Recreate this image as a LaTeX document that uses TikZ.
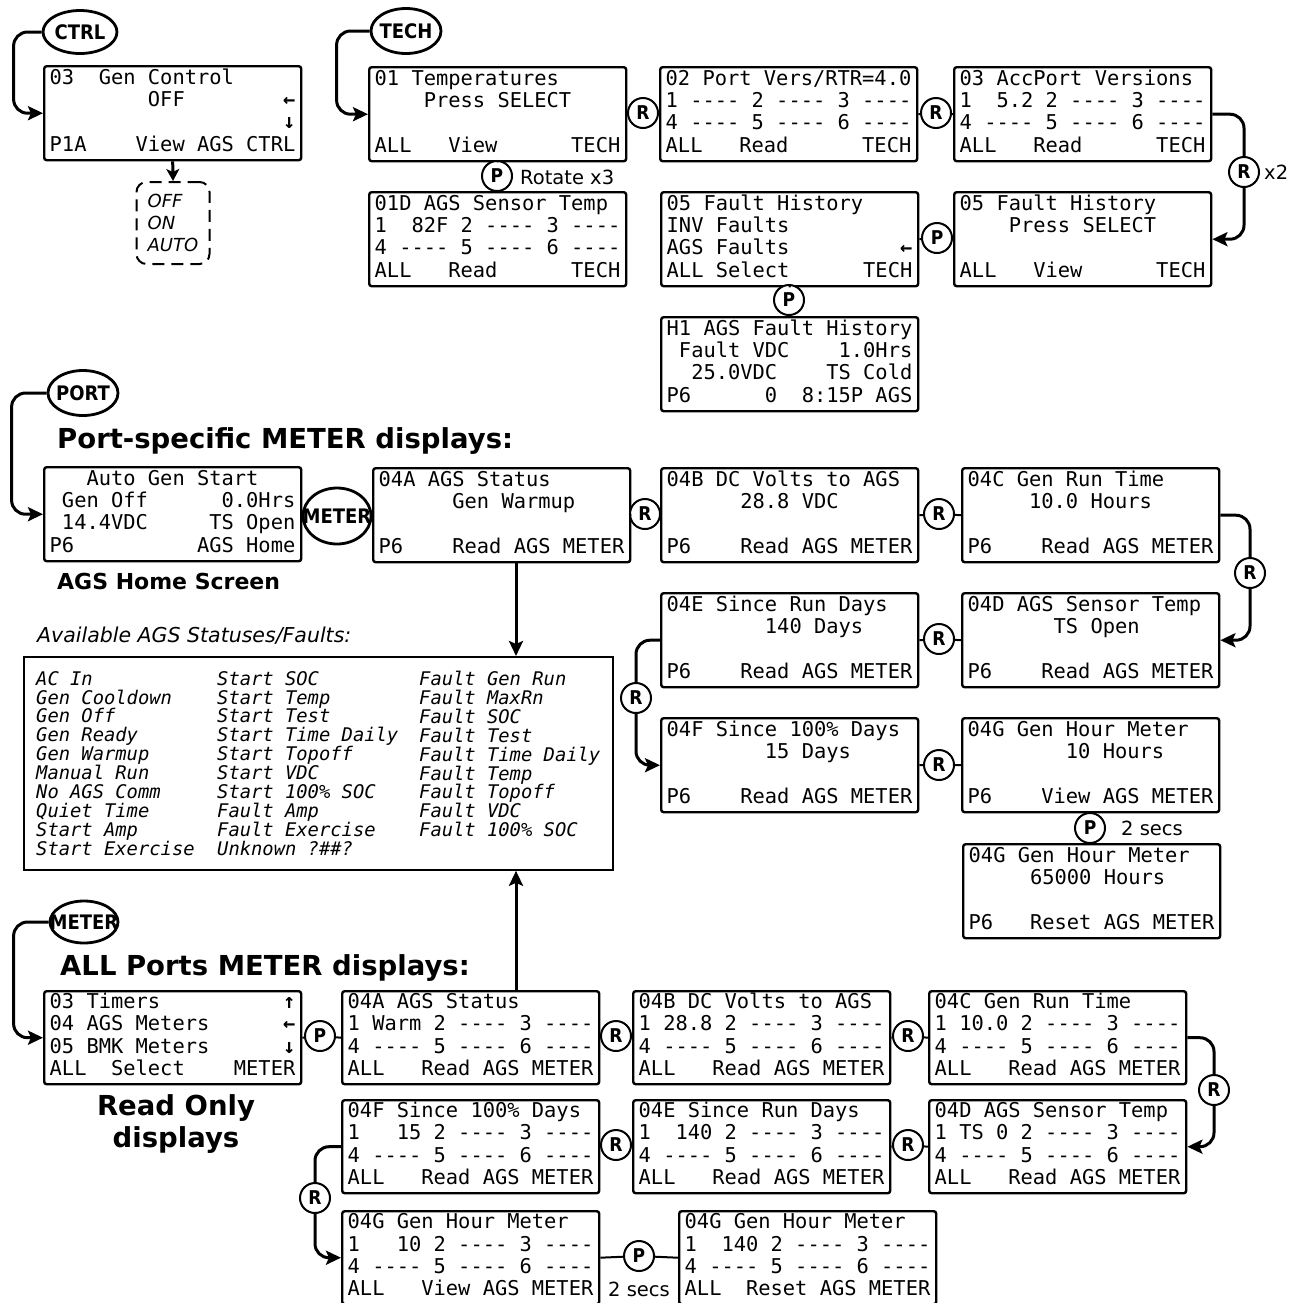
\documentclass[tikz,border=0pt]{standalone}
\usepackage{fontspec}
\setsansfont{DejaVu Sans Condensed}
\setmonofont{DejaVu Sans Mono}
\newfontfamily\widesans{DejaVu Sans}
\usetikzlibrary{shapes.geometric,arrows.meta}
\newcommand\lcdfont{\ttfamily\fontsize{20.4}{22.4}\selectfont}
\newcommand\keyfont{\sffamily\bfseries\fontsize{19}{19}\selectfont}
\newcommand\menufont{\sffamily\bfseries\fontsize{20}{20}\selectfont}
\newcommand\headfont{\widesans\bfseries\fontsize{27.5}{32}\selectfont}
\newcommand\capfont{\widesans\bfseries\fontsize{22}{26}\selectfont}
\newcommand\notefont{\widesans\fontsize{19.5}{22}\selectfont}
\newcommand\listfont{\ttfamily\itshape\fontsize{18.8}{18.9}\selectfont}
\newcommand\monosp{\spaceskip=0.60205em\relax\xspaceskip=0.60205em\relax}
\newcommand\ar[1]{\textbf{#1}}
\begin{document}
\begin{tikzpicture}[x=1pt, y=-1pt,
  screen/.style={draw, line width=2.4pt, rounded corners=2.5pt, anchor=north west,
    minimum width=257pt, minimum height=94pt, text width=246pt, inner xsep=5.5pt,
    inner ysep=1pt, align=left, font=\lcdfont,
    execute at begin node=\monosp\strut, execute at end node=\strut},
  listcol/.style={font=\listfont, align=left, anchor=north west, inner sep=0pt,
    execute at begin node=\monosp\strut},
  key/.style={draw, circle, fill=white, line width=2pt, minimum size=30pt,
    inner sep=0pt, font=\keyfont},
  menu/.style={draw, ellipse, fill=white, line width=2.8pt, inner xsep=-16pt,
    inner ysep=0pt, font=\menufont},
  loop/.style={line width=3pt, rounded corners=14pt},
  flow/.style={loop, -{Stealth[length=15pt, width=14pt, inset=3pt]}},
  link/.style={line width=2pt},
  head/.style={font=\headfont, inner sep=0pt},
  note/.style={font=\notefont, inner sep=0pt}]
\useasboundingbox (0,0) rectangle (1306,1302);

\node[menu, minimum width=74pt, minimum height=43pt] (ctrl) at (80,32) {CTRL};
\node[screen] (genctrl) at (43,65) {03~~Gen Control\\~~~~~~~~OFF~~~~~~~~\ar{←}\\~~~~~~~~~~~~~~~~~~~\ar{↓}\\P1A~~~~View AGS CTRL};
\node[draw, line width=2pt, dash pattern=on 12pt off 7pt, rounded corners=10pt, anchor=north,
  minimum width=73pt, minimum height=82pt, align=left, font=\widesans\itshape\fontsize{18}{22}\selectfont]
  (opts) at (173,181) {OFF\\ON\\AUTO};
\draw[flow] (ctrl.west) -- ++(-28,0) |- (genctrl.west);
\draw[flow, -{Stealth[length=12pt, width=13pt, inset=3pt]}] (genctrl.south) -- (opts.north);

\node[menu, minimum width=70pt, minimum height=45pt] (tech) at (406,31) {TECH};
\node[screen] (temps) at (368,66) {01 Temperatures\\~~~~Press SELECT\\~\\ALL~~~View~~~~~~TECH};
\node[screen] (portv) at (659,66) {02 Port Vers/RTR=4.0\\1 ---- 2 ---- 3 ----\\4 ---- 5 ---- 6 ----\\ALL~~~Read~~~~~~TECH};
\node[screen] (accp) at (953,66) {03 AccPort Versions\\1~~5.2 2 ---- 3 ----\\4 ---- 5 ---- 6 ----\\ALL~~~Read~~~~~~TECH};
\node[screen] (faultv) at (953,191) {05 Fault History\\~~~~Press SELECT\\~\\ALL~~~View~~~~~~TECH};
\node[screen] (faultsel) at (660,191) {05 Fault History\\INV Faults\\AGS Faults~~~~~~~~~\ar{←}\\ALL Select~~~~~~TECH};
\node[screen] (hist) at (660,316) {H1 AGS Fault History\\~Fault VDC~~~~1.0Hrs\\~~25.0VDC~~~~TS Cold\\P6~~~~~~0~~8:15P AGS};
\node[screen] (sensor) at (368,191) {01D AGS Sensor Temp\\1~~82F 2 ---- 3 ----\\4 ---- 5 ---- 6 ----\\ALL~~~Read~~~~~~TECH};
\draw[flow] (tech.west) -- ++(-33,0) |- (temps.west);
\node[key] (rt1) at (643,113) {R};
\node[key] (rt2) at (936,113) {R};
\node[key] (rx2) at (1244,172) {R};
\node[key] (pf1) at (937,238) {P};
\node[key] (pf2) at (789,300) {P};
\node[key] (pt1) at (497,176) {P};
\node[note, anchor=west] (x2) at (1264,172) {x2};
\node[note, anchor=west] (rot) at (520,177) {Rotate x3};
\draw[link] (temps.east) -- (rt1) -- (portv.west);
\draw[link] (portv.east) -- (rt2) -- (accp.west);
\draw[loop] (accp.east) -| (rx2);
\draw[flow] (rx2) |- (faultv.east);
\draw[link] (faultv.west) -- (pf1) -- (faultsel.east);
\draw[link] (faultsel.south) -- (pf2) -- (hist.north);
\draw[link] (temps.south) -- (pt1) -- (sensor.north);

\node[menu, minimum width=70pt, minimum height=45pt] (port) at (83,393) {PORT};
\node[head, anchor=west] (porthead) at (57,441) {Port-specific METER displays:};
\node[screen] (home) at (43,466) {~~~Auto Gen Start\\~Gen Off~~~~~~0.0Hrs\\~14.4VDC~~~~~TS Open\\P6~~~~~~~~~~AGS Home};
\node[font=\capfont, inner sep=0pt, anchor=west] (homecap) at (57,581) {AGS Home Screen};
\node[screen] (status) at (372,467) {04A AGS Status\\~~~~~~Gen Warmup\\~\\P6~~~~Read AGS METER};
\node[screen] (bvolts) at (660,467) {04B DC Volts to AGS\\~~~~~~28.8 VDC\\~\\P6~~~~Read AGS METER};
\node[screen] (runtime) at (961,467) {04C Gen Run Time\\~~~~~10.0 Hours\\~\\P6~~~~Read AGS METER};
\node[screen] (stemp) at (961,592) {04D AGS Sensor Temp\\~~~~~~~TS Open\\~\\P6~~~~Read AGS METER};
\node[screen] (sincerun) at (660,592) {04E Since Run Days\\~~~~~~~~140 Days\\~\\P6~~~~Read AGS METER};
\node[screen] (since100) at (660,717) {04F Since 100\% Days\\~~~~~~~~15 Days\\~\\P6~~~~Read AGS METER};
\node[screen] (hourm) at (961,717) {04G Gen Hour Meter\\~~~~~~~~10 Hours\\~\\P6~~~~View AGS METER};
\node[screen] (hourr) at (962,843) {04G Gen Hour Meter\\~~~~~65000 Hours\\~\\P6~~~Reset AGS METER};
\node[menu, minimum width=68pt, minimum height=56pt] (meterp) at (337,516) {METER};
\draw[flow] (port.west) -- ++(-35,0) |- (home.west);
\node[key] (rm1) at (645,514) {R};
\node[key] (rm2) at (939,514) {R};
\node[key] (rm3) at (1250,573) {R};
\node[key] (rm4) at (939,639) {R};
\node[key] (rm5) at (636,698) {R};
\node[key] (rm6) at (939,765) {R};
\node[key] (pm1) at (1090,828) {P};
\node[note, anchor=west] (secs1) at (1121,828) {2 secs};
\draw[link] (status.east) -- (rm1) -- (bvolts.west);
\draw[link] (bvolts.east) -- (rm2) -- (runtime.west);
\draw[loop] (runtime.east) -| (rm3);
\draw[flow] (rm3) |- (stemp.east);
\draw[link] (stemp.west) -- (rm4) -- (sincerun.east);
\draw[loop] (sincerun.west) -| (rm5);
\draw[flow] (rm5) |- (since100.west);
\draw[link] (since100.east) -- (rm6) -- (hourm.west);
\draw[link] (hourm.south) -- (pm1) -- (hourr.north);

\node[note, font=\widesans\itshape\fontsize{20.5}{22}\selectfont, anchor=west] (availcap) at (37,636) {Available AGS Statuses/Faults:};
\node[draw, line width=1.8pt, anchor=north west, minimum width=589pt, minimum height=213pt, inner sep=0pt] (list) at (23,656) {};
\node[listcol] (col1) at (36,671)
  {AC In\\Gen Cooldown\\Gen Off\\Gen Ready\\Gen Warmup\\Manual Run\\No AGS Comm\\Quiet Time\\Start Amp\\Start Exercise};
\node[listcol] (col2) at (217,671)
  {Start SOC\\Start Temp\\Start Test\\Start Time Daily\\Start Topoff\\Start VDC\\Start 100\% SOC\\Fault Amp\\Fault Exercise\\Unknown ?\#\#?};
\node[listcol] (col3) at (419,671)
  {Fault Gen Run\\Fault MaxRn\\Fault SOC\\Fault Test\\Fault Time Daily\\Fault Temp\\Fault Topoff\\Fault VDC\\Fault 100\% SOC};
\coordinate (drop) at (516,0);
\draw[flow] (status.south -| drop) -- (list.north -| drop);

\node[menu, minimum width=68pt, minimum height=42pt] (meterall) at (84,922) {METER};
\node[head, anchor=west] (allhead) at (60,968) {ALL Ports METER displays:};
\node[screen, minimum height=93pt] (timers) at (43,990) {03 Timers~~~~~~~~~~\ar{↑}\\04 AGS Meters~~~~~~\ar{←}\\05 BMK Meters~~~~~~\ar{↓}\\ALL~~Select~~~~METER};
\node[head, align=center] (rocap) at (176,1124) {Read Only\\displays};
\node[screen, minimum height=93pt] (allstat) at (341,990) {04A AGS Status\\1 Warm 2 ---- 3 ----\\4 ---- 5 ---- 6 ----\\ALL~~~Read AGS METER};
\node[screen, minimum height=93pt] (allvolt) at (632,990) {04B DC Volts to AGS\\1 28.8 2 ---- 3 ----\\4 ---- 5 ---- 6 ----\\ALL~~~Read AGS METER};
\node[screen, minimum height=93pt] (allrun) at (928,990) {04C Gen Run Time\\1 10.0 2 ---- 3 ----\\4 ---- 5 ---- 6 ----\\ALL~~~Read AGS METER};
\node[screen, minimum height=93pt] (allsince100) at (341,1099) {04F Since 100\% Days\\1~~~15 2 ---- 3 ----\\4 ---- 5 ---- 6 ----\\ALL~~~Read AGS METER};
\node[screen, minimum height=93pt] (allsincerun) at (632,1099) {04E Since Run Days\\1~~140 2 ---- 3 ----\\4 ---- 5 ---- 6 ----\\ALL~~~Read AGS METER};
\node[screen, minimum height=93pt] (alltemp) at (928,1099) {04D AGS Sensor Temp\\1 TS 0 2 ---- 3 ----\\4 ---- 5 ---- 6 ----\\ALL~~~Read AGS METER};
\node[screen, minimum height=93pt] (allhour) at (341,1210) {04G Gen Hour Meter\\1~~~10 2 ---- 3 ----\\4 ---- 5 ---- 6 ----\\ALL~~~View AGS METER};
\node[screen, minimum height=93pt] (allreset) at (678,1210) {04G Gen Hour Meter\\1~~140 2 ---- 3 ----\\4 ---- 5 ---- 6 ----\\ALL~~Reset AGS METER};
\draw[flow] (meterall.west) -- ++(-35,0) |- (timers.west);
\node[key] (pa1) at (320,1036) {P};
\node[key] (ra1) at (616,1036) {R};
\node[key] (ra2) at (908,1036) {R};
\node[key] (ra3) at (1214,1090) {R};
\node[key] (ra4) at (616,1145) {R};
\node[key] (ra5) at (908,1145) {R};
\node[key] (ra6) at (315,1198) {R};
\node[key] (pa2) at (639,1256) {P};
\node[note] (secs2) at (639,1289) {2 secs};
\draw[link] (timers.east) -- (pa1) -- (allstat.west);
\draw[link] (allstat.east) -- (ra1) -- (allvolt.west);
\draw[link] (allvolt.east) -- (ra2) -- (allrun.west);
\draw[loop] (allrun.east) -| (ra3);
\draw[flow] (ra3) |- (alltemp.east);
\draw[link] (alltemp.west) -- (ra5) -- (allsincerun.east);
\draw[link] (allsincerun.west) -- (ra4) -- (allsince100.east);
\draw[loop] (allsince100.west) -| (ra6);
\draw[flow] (ra6) |- (allhour.west);
\draw[link] (allhour.east) -- (pa2) -- (allreset.west);
\draw[flow] (allstat.north -| drop) -- (list.south -| drop);
\end{tikzpicture}
\end{document}
